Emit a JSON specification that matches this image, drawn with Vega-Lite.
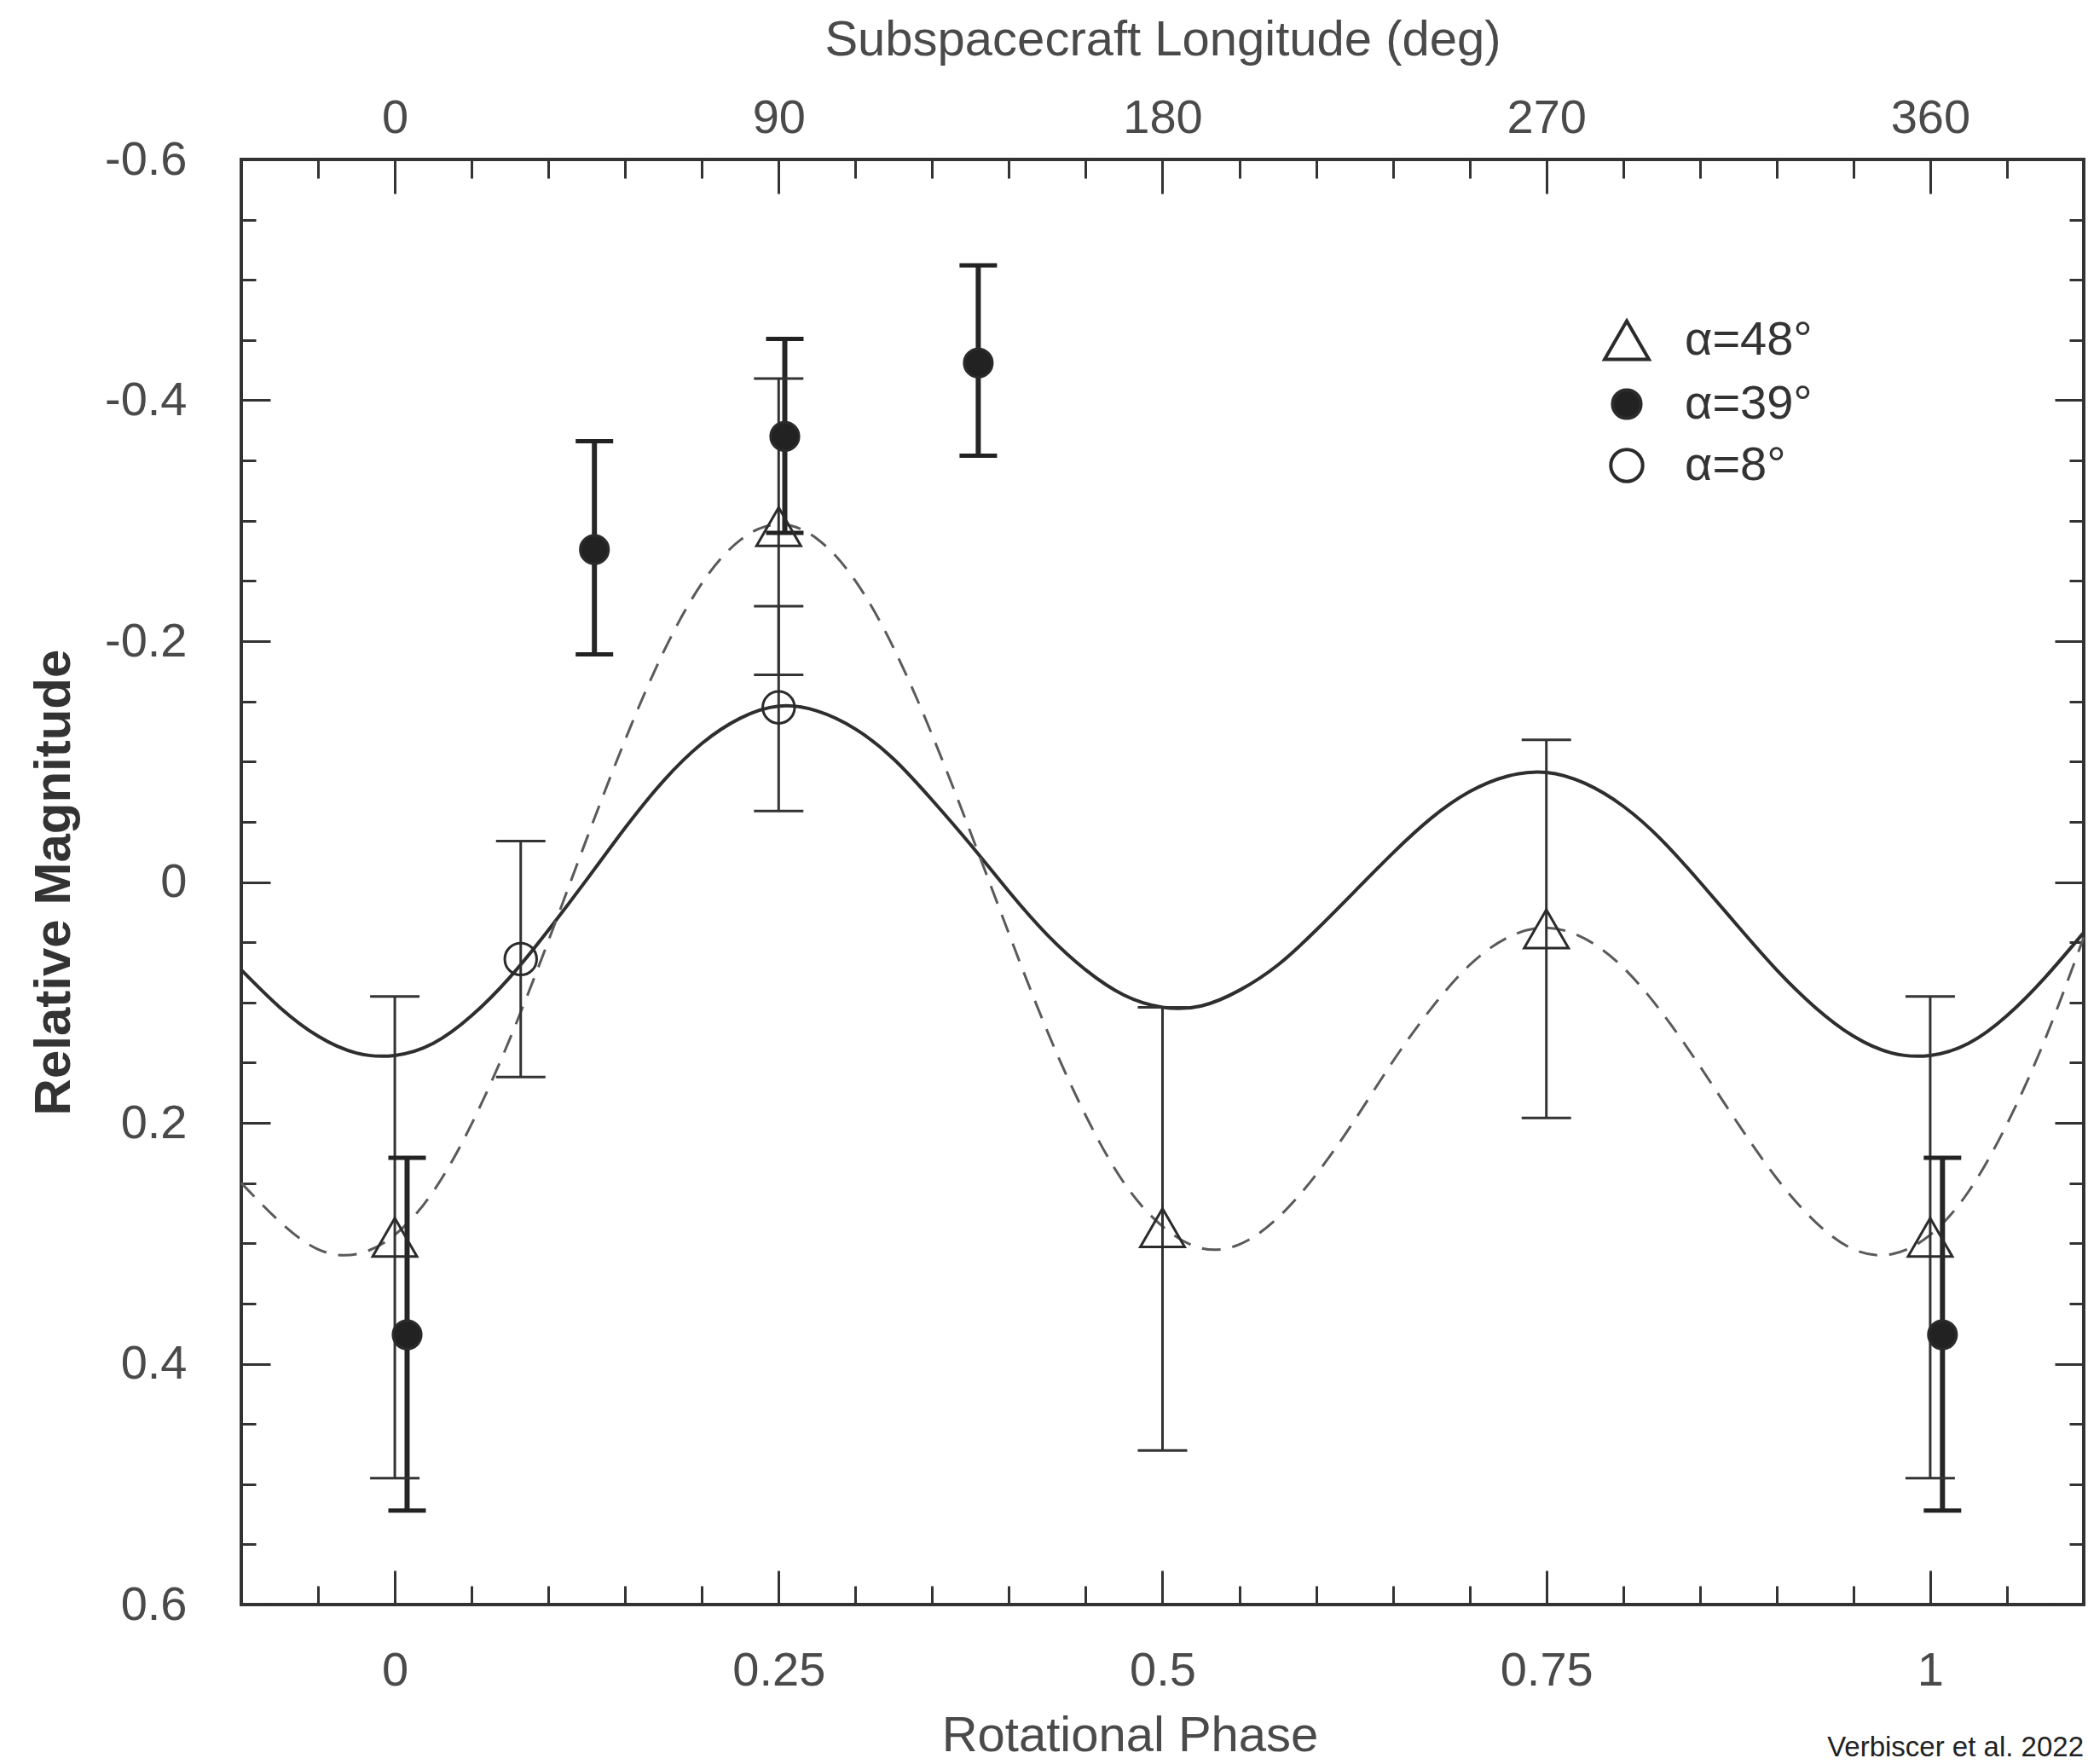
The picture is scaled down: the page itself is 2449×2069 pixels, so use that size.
{
  "$schema": "https://vega.github.io/schema/vega-lite/v6.json",
  "autosize": "none",
  "width": 2161,
  "height": 1695,
  "padding": {"left": 283, "top": 187, "right": 5, "bottom": 187},
  "background": "white",
  "title": {
    "text": "Verbiscer et al. 2022",
    "orient": "bottom",
    "anchor": "end",
    "frame": "group",
    "offset": -31,
    "font": "Liberation Sans",
    "fontSize": 33,
    "fontWeight": "normal",
    "color": "#222"
  },
  "datasets": {
    "curves": [
      {"curve": "fit8", "phase": -0.1, "mag": 0.073},
      {"curve": "fit8", "phase": -0.075, "mag": 0.104},
      {"curve": "fit8", "phase": -0.05, "mag": 0.128},
      {"curve": "fit8", "phase": -0.025, "mag": 0.142},
      {"curve": "fit8", "phase": 0, "mag": 0.144},
      {"curve": "fit8", "phase": 0.025, "mag": 0.134},
      {"curve": "fit8", "phase": 0.05, "mag": 0.111},
      {"curve": "fit8", "phase": 0.075, "mag": 0.079},
      {"curve": "fit8", "phase": 0.1, "mag": 0.04},
      {"curve": "fit8", "phase": 0.125, "mag": -0.002},
      {"curve": "fit8", "phase": 0.15, "mag": -0.045},
      {"curve": "fit8", "phase": 0.175, "mag": -0.084},
      {"curve": "fit8", "phase": 0.2, "mag": -0.115},
      {"curve": "fit8", "phase": 0.225, "mag": -0.136},
      {"curve": "fit8", "phase": 0.25, "mag": -0.146},
      {"curve": "fit8", "phase": 0.275, "mag": -0.142},
      {"curve": "fit8", "phase": 0.3, "mag": -0.127},
      {"curve": "fit8", "phase": 0.325, "mag": -0.102},
      {"curve": "fit8", "phase": 0.35, "mag": -0.068},
      {"curve": "fit8", "phase": 0.375, "mag": -0.031},
      {"curve": "fit8", "phase": 0.4, "mag": 0.008},
      {"curve": "fit8", "phase": 0.425, "mag": 0.044},
      {"curve": "fit8", "phase": 0.45, "mag": 0.073},
      {"curve": "fit8", "phase": 0.475, "mag": 0.094},
      {"curve": "fit8", "phase": 0.5, "mag": 0.104},
      {"curve": "fit8", "phase": 0.525, "mag": 0.103},
      {"curve": "fit8", "phase": 0.55, "mag": 0.09},
      {"curve": "fit8", "phase": 0.575, "mag": 0.069},
      {"curve": "fit8", "phase": 0.6, "mag": 0.04},
      {"curve": "fit8", "phase": 0.625, "mag": 0.008},
      {"curve": "fit8", "phase": 0.65, "mag": -0.024},
      {"curve": "fit8", "phase": 0.675, "mag": -0.053},
      {"curve": "fit8", "phase": 0.7, "mag": -0.075},
      {"curve": "fit8", "phase": 0.725, "mag": -0.088},
      {"curve": "fit8", "phase": 0.75, "mag": -0.091},
      {"curve": "fit8", "phase": 0.775, "mag": -0.082},
      {"curve": "fit8", "phase": 0.8, "mag": -0.063},
      {"curve": "fit8", "phase": 0.825, "mag": -0.035},
      {"curve": "fit8", "phase": 0.85, "mag": 0.0},
      {"curve": "fit8", "phase": 0.875, "mag": 0.037},
      {"curve": "fit8", "phase": 0.9, "mag": 0.073},
      {"curve": "fit8", "phase": 0.925, "mag": 0.104},
      {"curve": "fit8", "phase": 0.95, "mag": 0.128},
      {"curve": "fit8", "phase": 0.975, "mag": 0.142},
      {"curve": "fit8", "phase": 1.0, "mag": 0.144},
      {"curve": "fit8", "phase": 1.025, "mag": 0.134},
      {"curve": "fit8", "phase": 1.05, "mag": 0.111},
      {"curve": "fit8", "phase": 1.075, "mag": 0.079},
      {"curve": "fit8", "phase": 1.1, "mag": 0.042},
      {"curve": "fit48", "phase": -0.1, "mag": 0.25},
      {"curve": "fit48", "phase": -0.075, "mag": 0.282},
      {"curve": "fit48", "phase": -0.05, "mag": 0.305},
      {"curve": "fit48", "phase": -0.025, "mag": 0.309},
      {"curve": "fit48", "phase": 0, "mag": 0.293},
      {"curve": "fit48", "phase": 0.025, "mag": 0.257},
      {"curve": "fit48", "phase": 0.05, "mag": 0.201},
      {"curve": "fit48", "phase": 0.075, "mag": 0.13},
      {"curve": "fit48", "phase": 0.1, "mag": 0.049},
      {"curve": "fit48", "phase": 0.125, "mag": -0.036},
      {"curve": "fit48", "phase": 0.15, "mag": -0.118},
      {"curve": "fit48", "phase": 0.175, "mag": -0.191},
      {"curve": "fit48", "phase": 0.2, "mag": -0.248},
      {"curve": "fit48", "phase": 0.225, "mag": -0.284},
      {"curve": "fit48", "phase": 0.25, "mag": -0.297},
      {"curve": "fit48", "phase": 0.275, "mag": -0.285},
      {"curve": "fit48", "phase": 0.3, "mag": -0.25},
      {"curve": "fit48", "phase": 0.325, "mag": -0.194},
      {"curve": "fit48", "phase": 0.35, "mag": -0.122},
      {"curve": "fit48", "phase": 0.375, "mag": -0.041},
      {"curve": "fit48", "phase": 0.4, "mag": 0.043},
      {"curve": "fit48", "phase": 0.425, "mag": 0.124},
      {"curve": "fit48", "phase": 0.45, "mag": 0.194},
      {"curve": "fit48", "phase": 0.475, "mag": 0.25},
      {"curve": "fit48", "phase": 0.5, "mag": 0.286},
      {"curve": "fit48", "phase": 0.525, "mag": 0.304},
      {"curve": "fit48", "phase": 0.55, "mag": 0.301},
      {"curve": "fit48", "phase": 0.575, "mag": 0.279},
      {"curve": "fit48", "phase": 0.6, "mag": 0.243},
      {"curve": "fit48", "phase": 0.625, "mag": 0.198},
      {"curve": "fit48", "phase": 0.65, "mag": 0.149},
      {"curve": "fit48", "phase": 0.675, "mag": 0.105},
      {"curve": "fit48", "phase": 0.7, "mag": 0.069},
      {"curve": "fit48", "phase": 0.725, "mag": 0.046},
      {"curve": "fit48", "phase": 0.75, "mag": 0.038},
      {"curve": "fit48", "phase": 0.775, "mag": 0.047},
      {"curve": "fit48", "phase": 0.8, "mag": 0.071},
      {"curve": "fit48", "phase": 0.825, "mag": 0.108},
      {"curve": "fit48", "phase": 0.85, "mag": 0.153},
      {"curve": "fit48", "phase": 0.875, "mag": 0.201},
      {"curve": "fit48", "phase": 0.9, "mag": 0.246},
      {"curve": "fit48", "phase": 0.925, "mag": 0.282},
      {"curve": "fit48", "phase": 0.95, "mag": 0.305},
      {"curve": "fit48", "phase": 0.975, "mag": 0.309},
      {"curve": "fit48", "phase": 1.0, "mag": 0.293},
      {"curve": "fit48", "phase": 1.025, "mag": 0.257},
      {"curve": "fit48", "phase": 1.05, "mag": 0.201},
      {"curve": "fit48", "phase": 1.075, "mag": 0.13},
      {"curve": "fit48", "phase": 1.1, "mag": 0.046}
    ],
    "obs": [
      {"series": "α=48°", "phase": 0.0, "mag": 0.295, "lo": 0.095, "hi": 0.495},
      {"series": "α=48°", "phase": 0.25, "mag": -0.295, "lo": -0.418, "hi": -0.172},
      {"series": "α=48°", "phase": 0.5, "mag": 0.287, "lo": 0.104, "hi": 0.472},
      {"series": "α=48°", "phase": 0.75, "mag": 0.039, "lo": -0.118, "hi": 0.196},
      {"series": "α=48°", "phase": 1.0, "mag": 0.295, "lo": 0.095, "hi": 0.495},
      {"series": "α=39°", "phase": 0.008, "mag": 0.376, "lo": 0.229, "hi": 0.522},
      {"series": "α=39°", "phase": 0.13, "mag": -0.276, "lo": -0.366, "hi": -0.189},
      {"series": "α=39°", "phase": 0.254, "mag": -0.37, "lo": -0.451, "hi": -0.29},
      {"series": "α=39°", "phase": 0.38, "mag": -0.431, "lo": -0.512, "hi": -0.354},
      {"series": "α=39°", "phase": 1.008, "mag": 0.376, "lo": 0.229, "hi": 0.522},
      {"series": "α=8°", "phase": 0.082, "mag": 0.064, "lo": -0.034, "hi": 0.162},
      {"series": "α=8°", "phase": 0.25, "mag": -0.145, "lo": -0.229, "hi": -0.059}
    ]
  },
  "resolve": {"axis": {"x": "independent", "y": "independent"}},
  "layer": [
    {
      "data": {"name": "curves"},
      "transform": [{"filter": "datum.curve == 'fit8'"}],
      "mark": {"type": "line", "color": "#2e2e2e", "strokeWidth": 4, "interpolate": "natural"},
      "encoding": {
        "x": {
          "field": "phase", "type": "quantitative",
          "scale": {"domain": [-0.1, 1.1], "nice": false, "zero": false},
          "axis": {
            "orient": "bottom", "values": [0, 0.25, 0.5, 0.75, 1],
            "labelExpr": "format(datum.value, '~g')",
            "tickSize": -40, "tickWidth": 3, "tickColor": "#333",
            "labelPadding": 90, "labelFontSize": 56, "labelColor": "#4a4a4a",
            "labelOverlap": false, "labelFlush": false, "labelBound": false,
            "domain": false, "grid": false,
            "title": "Rotational Phase", "titleFontSize": 58, "titleFontWeight": "normal",
            "titleColor": "#4a4a4a", "titlePadding": 20, "titleX": 1042
          }
        },
        "y": {
          "field": "mag", "type": "quantitative",
          "scale": {"domain": [-0.6, 0.6], "nice": false, "zero": false, "reverse": true},
          "axis": {
            "orient": "left", "values": [-0.6, -0.4, -0.2, 0, 0.2, 0.4, 0.6],
            "labelExpr": "replace(format(datum.value, '~g'), '\u2212', '-')",
            "tickSize": -34, "tickWidth": 3, "tickColor": "#333",
            "labelPadding": 98, "labelFontSize": 56, "labelColor": "#4a4a4a",
            "labelOverlap": false, "labelFlush": false, "labelBound": false,
            "domain": false, "grid": false,
            "title": "Relative Magnitude", "titleFontSize": 60, "titleFontWeight": "bold",
            "titleColor": "#333", "titlePadding": 28
          }
        }
      }
    },
    {
      "data": {"name": "curves"},
      "transform": [{"filter": "datum.curve == 'fit48'"}],
      "mark": {"type": "line", "color": "#5a5a5a", "strokeWidth": 3, "strokeDash": [22, 14], "interpolate": "natural"},
      "encoding": {
        "x": {
          "field": "phase", "type": "quantitative",
          "scale": {"domain": [-0.1, 1.1], "nice": false, "zero": false},
          "axis": {
            "orient": "bottom",
            "values": [-0.05, 0.05, 0.1, 0.15, 0.2, 0.3, 0.35, 0.4, 0.45, 0.55, 0.6, 0.65, 0.7, 0.8, 0.85, 0.9, 0.95, 1.05],
            "tickSize": -22, "tickWidth": 3, "tickColor": "#333",
            "labels": false, "domain": false, "grid": false, "title": null
          }
        },
        "y": {
          "field": "mag", "type": "quantitative",
          "scale": {"domain": [-0.6, 0.6], "nice": false, "zero": false, "reverse": true},
          "axis": {
            "orient": "left",
            "values": [-0.55, -0.5, -0.45, -0.35, -0.3, -0.25, -0.15, -0.1, -0.05, 0.05, 0.1, 0.15, 0.25, 0.3, 0.35, 0.45, 0.5, 0.55],
            "tickSize": -17, "tickWidth": 3, "tickColor": "#333",
            "labels": false, "domain": false, "grid": false, "title": null
          }
        }
      }
    },
    {
      "data": {"name": "obs"},
      "transform": [{"filter": {"field": "series", "oneOf": ["α=48°", "α=8°"]}}],
      "mark": {"type": "rule", "color": "#333", "strokeWidth": 3},
      "encoding": {
        "x": {
          "field": "phase", "type": "quantitative",
          "scale": {"domain": [-0.1, 1.1], "nice": false, "zero": false},
          "axis": {
            "orient": "top", "values": [0, 0.25, 0.5, 0.75, 1],
            "labelExpr": "format(datum.value * 360, 'd')",
            "tickSize": -40, "tickWidth": 3, "tickColor": "#333",
            "labelPadding": 60, "labelFontSize": 56, "labelColor": "#4a4a4a",
            "labelOverlap": false, "labelFlush": false, "labelBound": false,
            "domain": false, "grid": false,
            "title": "Subspacecraft Longitude (deg)", "titleFontSize": 58, "titleFontWeight": "normal",
            "titleColor": "#4a4a4a", "titlePadding": 34
          }
        },
        "y": {
          "field": "lo", "type": "quantitative",
          "scale": {"domain": [-0.6, 0.6], "nice": false, "zero": false, "reverse": true},
          "axis": {
            "orient": "right", "values": [-0.6, -0.4, -0.2, 0, 0.2, 0.4, 0.6],
            "tickSize": -34, "tickWidth": 3, "tickColor": "#333",
            "labels": false, "domain": false, "grid": false, "title": null
          }
        },
        "y2": {"field": "hi"}
      }
    },
    {
      "data": {"name": "obs"},
      "transform": [{"filter": {"field": "series", "equal": "α=39°"}}],
      "mark": {"type": "rule", "color": "#262626", "strokeWidth": 6},
      "encoding": {
        "x": {"field": "phase", "type": "quantitative", "axis": null},
        "y": {"field": "lo", "type": "quantitative", "axis": null},
        "y2": {"field": "hi"}
      }
    },
    {
      "data": {"name": "obs"},
      "transform": [
        {"filter": {"field": "series", "oneOf": ["α=48°", "α=8°"]}},
        {"fold": ["lo", "hi"], "as": ["end", "val"]}
      ],
      "mark": {"type": "tick", "orient": "horizontal", "size": 58, "thickness": 3, "color": "#333", "opacity": 1},
      "encoding": {
        "x": {"field": "phase", "type": "quantitative", "axis": null},
        "y": {"field": "val", "type": "quantitative", "axis": null}
      }
    },
    {
      "data": {"name": "obs"},
      "transform": [
        {"filter": {"field": "series", "equal": "α=39°"}},
        {"fold": ["lo", "hi"], "as": ["end", "val"]}
      ],
      "mark": {"type": "tick", "orient": "horizontal", "size": 44, "thickness": 5, "color": "#222", "opacity": 1},
      "encoding": {
        "x": {"field": "phase", "type": "quantitative", "axis": null},
        "y": {"field": "val", "type": "quantitative", "axis": null}
      }
    },
    {
      "data": {"name": "obs"},
      "mark": {"type": "point", "filled": true, "strokeWidth": 3, "opacity": 1},
      "encoding": {
        "x": {
          "field": "phase", "type": "quantitative",
          "scale": {"domain": [-0.1, 1.1], "nice": false, "zero": false},
          "axis": {
            "orient": "top",
            "values": [-0.05, 0.05, 0.1, 0.15, 0.2, 0.3, 0.35, 0.4, 0.45, 0.55, 0.6, 0.65, 0.7, 0.8, 0.85, 0.9, 0.95, 1.05],
            "tickSize": -22, "tickWidth": 3, "tickColor": "#333",
            "labels": false, "domain": false, "grid": false, "title": null
          }
        },
        "y": {
          "field": "mag", "type": "quantitative",
          "scale": {"domain": [-0.6, 0.6], "nice": false, "zero": false, "reverse": true},
          "axis": {
            "orient": "right",
            "values": [-0.55, -0.5, -0.45, -0.35, -0.3, -0.25, -0.15, -0.1, -0.05, 0.05, 0.1, 0.15, 0.25, 0.3, 0.35, 0.45, 0.5, 0.55],
            "tickSize": -17, "tickWidth": 3, "tickColor": "#333",
            "labels": false, "domain": false, "grid": false, "title": null
          }
        },
        "shape": {
          "field": "series", "type": "nominal",
          "scale": {"domain": ["α=48°", "α=39°", "α=8°"], "range": ["triangle-up", "circle", "circle"]},
          "legend": {"title": null, "orient": "none", "legendX": 1597, "legendY": 184}
        },
        "fill": {
          "field": "series", "type": "nominal",
          "scale": {"domain": ["α=48°", "α=39°", "α=8°"], "range": ["transparent", "#222222", "transparent"]}
        },
        "stroke": {
          "field": "series", "type": "nominal",
          "scale": {"domain": ["α=48°", "α=39°", "α=8°"], "range": ["#2b2b2b", "#2b2b2b", "#2b2b2b"]}
        },
        "size": {
          "field": "series", "type": "nominal",
          "scale": {"type": "ordinal", "domain": ["α=48°", "α=39°", "α=8°"], "range": [2700, 1100, 1400]}
        }
      }
    }
  ],
  "config": {
    "font": "Liberation Sans",
    "view": {"stroke": "#333", "strokeWidth": 4},
    "legend": {
      "padding": 0,
      "labelFont": "Liberation Sans",
      "labelFontSize": 56,
      "labelColor": "#333",
      "labelOffset": 40,
      "rowPadding": 16,
      "labelLimit": 400,
      "symbolStrokeWidth": 4,
      "symbolOpacity": 1
    }
  }
}
